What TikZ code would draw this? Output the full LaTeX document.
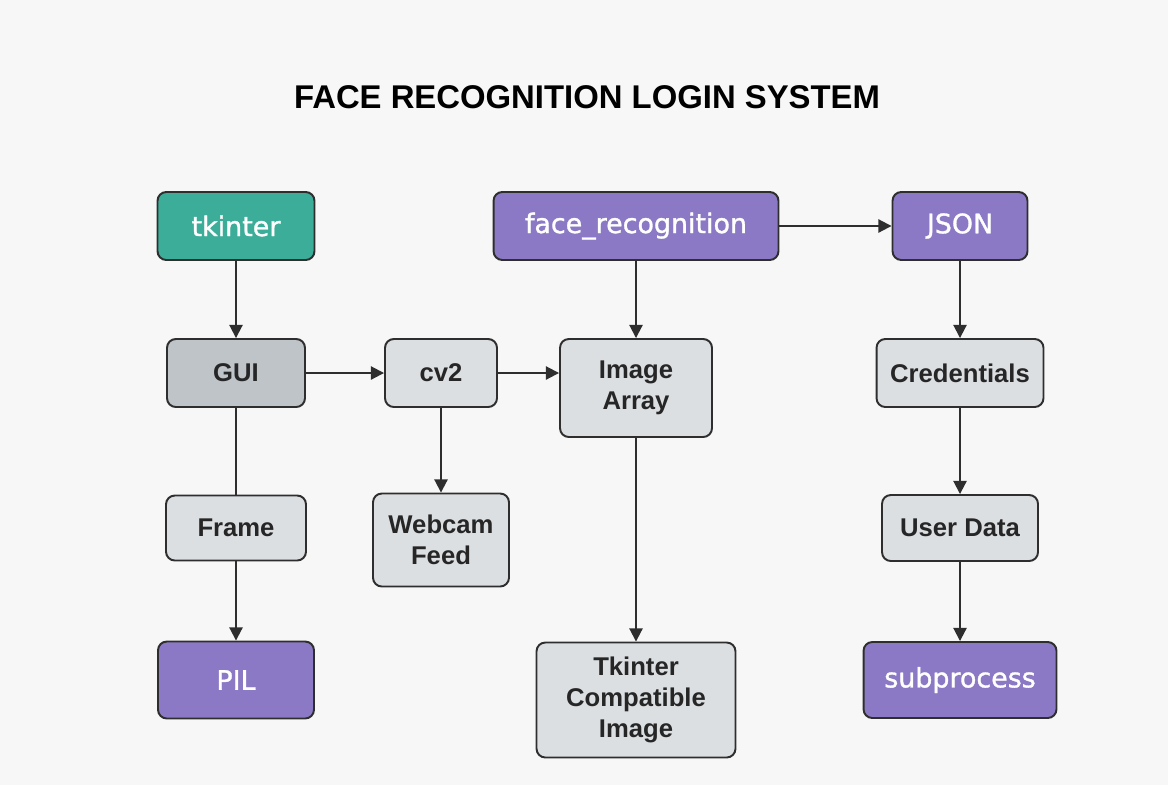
\documentclass[tikz,border=0pt]{standalone}
\usepackage{fontspec}
\setmainfont{Liberation Sans}
\newfontfamily\libfont[FakeBold=1.2]{DejaVu Sans}
\usetikzlibrary{arrows.meta}

\definecolor{bgpaper}{HTML}{F7F7F7}
\definecolor{tealfill}{HTML}{3BAD99}
\definecolor{purplefill}{HTML}{8B79C5}
\definecolor{greyfill}{HTML}{DCDFE2}
\definecolor{guifill}{HTML}{BFC4C9}
\definecolor{edgeline}{HTML}{2E2E2E}

\begin{document}
\begin{tikzpicture}[x=0.02cm, y=-0.02cm,
    box/.style={draw=edgeline, line width=1.1pt, rounded corners=5pt, align=center, inner sep=0pt},
    greybox/.style={box, fill=greyfill, text=black!85,
      font=\fontsize{14.6}{17.5}\selectfont\bfseries},
    libbox/.style={box, text=white, font=\libfont\fontsize{15.3}{18}\selectfont},
    link/.style={draw=edgeline, line width=1.1pt, -{Triangle[length=7.5pt,width=7.5pt]}},
  ]
  \fill[bgpaper] (0,0) rectangle (1168,785);
  \useasboundingbox (0,0) rectangle (1168,785);

  \node (title) at (587,97) {\fontsize{18.7}{22}\selectfont\bfseries FACE RECOGNITION LOGIN SYSTEM};

  % libraries
  \node[libbox, fill=tealfill, minimum width=3.14cm, minimum height=1.36cm] (tkinter) at (236,226) {tkinter};
  \node[libbox, fill=purplefill, minimum width=5.7cm, minimum height=1.36cm] (facerec) at (636,226) {face\_recognition};
  \node[libbox, fill=purplefill, minimum width=2.7cm, minimum height=1.36cm] (json) at (960,226) {JSON};
  \node[libbox, fill=purplefill, minimum width=3.12cm, minimum height=1.54cm] (pil) at (236,680) {PIL};
  \node[libbox, fill=purplefill, minimum width=3.86cm, minimum height=1.52cm] (subproc) at (960,680) {subprocess};

  % components
  \node[greybox, fill=guifill, minimum width=2.76cm, minimum height=1.36cm] (gui) at (236,373) {GUI};
  \node[greybox, minimum width=2.24cm, minimum height=1.36cm] (cvtwo) at (441,373) {cv2};
  \node[greybox, minimum width=3.04cm, minimum height=1.96cm] (imgarr) at (636,388) {Image\\Array};
  \node[greybox, minimum width=3.34cm, minimum height=1.36cm] (cred) at (960,373) {Credentials};
  \node[greybox, minimum width=2.8cm, minimum height=1.3cm] (frame) at (236,528) {Frame};
  \node[greybox, minimum width=2.72cm, minimum height=1.86cm] (webcam) at (441,540) {Webcam\\Feed};
  \node[greybox, minimum width=3.12cm, minimum height=1.32cm] (userdata) at (960,528) {User Data};
  \node[greybox, minimum width=3.98cm, minimum height=2.3cm] (tkimg) at (636,700) {Tkinter\\Compatible\\Image};

  % connectors
  \draw[link] (tkinter) -- (gui);
  \draw[link] (gui) -- (cvtwo);
  \draw[link] (cvtwo.east) -- (cvtwo.east -| imgarr.west);
  \draw[link] (facerec) -- (imgarr);
  \draw[link] (facerec) -- (json);
  \draw[link] (cvtwo) -- (webcam);
  \draw[draw=edgeline, line width=1.1pt] (gui) -- (frame);
  \draw[link] (frame) -- (pil);
  \draw[link] (imgarr) -- (tkimg);
  \draw[link] (json) -- (cred);
  \draw[link] (cred) -- (userdata);
  \draw[link] (userdata) -- (subproc);
\end{tikzpicture}
\end{document}
